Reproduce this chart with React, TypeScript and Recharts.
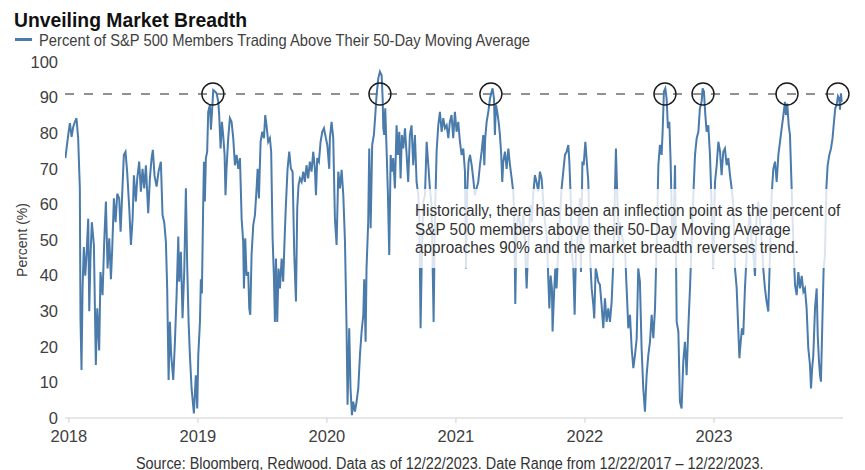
import { Line, LineChart, ReferenceDot, ReferenceLine, XAxis, YAxis } from 'recharts'

const years = [2018, 2019, 2020, 2021, 2022, 2023]
const yTicks = [0, 10, 20, 30, 40, 50, 60, 70, 80, 90, 100]
const threshold = 91
// peaks that touch the 90% line (fractional year)
const peakDates = [2019.116, 2020.411, 2021.271, 2022.62, 2022.915, 2023.566, 2023.961]

// [fractional year, % above 50-day MA]
const s2018: [number, number][] = [
  [2017.973, 73], [2017.995, 79.5], [2018.008, 82.8], [2018.021, 79], [2018.034, 81.8], [2018.047, 83.2],
  [2018.059, 84.2], [2018.072, 78.6], [2018.085, 64.5], [2018.09, 28], [2018.098, 13.5], [2018.106, 36.4],
  [2018.116, 48], [2018.127, 40], [2018.137, 45.8], [2018.15, 56], [2018.158, 30], [2018.168, 45.8],
  [2018.178, 55], [2018.194, 48.6], [2018.209, 14.9], [2018.22, 30.8], [2018.235, 19], [2018.245, 41],
  [2018.261, 34.5], [2018.274, 49.5], [2018.287, 60.8], [2018.3, 42], [2018.313, 50.5], [2018.326, 39],
  [2018.336, 47.6], [2018.349, 61.7], [2018.362, 55], [2018.375, 63], [2018.39, 61.7], [2018.401, 52.3],
  [2018.413, 62.6], [2018.426, 73.9], [2018.439, 74.8], [2018.452, 69], [2018.468, 58.9], [2018.481, 48.6],
  [2018.494, 56], [2018.504, 68.2], [2018.519, 60.8], [2018.53, 67.3], [2018.545, 72], [2018.558, 63.6],
  [2018.571, 70], [2018.584, 64.5], [2018.597, 71], [2018.615, 57.5], [2018.628, 67.3], [2018.641, 73],
  [2018.651, 75.3], [2018.664, 68], [2018.68, 65], [2018.695, 69.2], [2018.713, 72], [2018.726, 57],
  [2018.739, 55], [2018.752, 49.5], [2018.762, 36.4], [2018.773, 10.7], [2018.783, 27], [2018.793, 17.7],
  [2018.809, 10.7], [2018.822, 21.4], [2018.835, 34.5], [2018.848, 51], [2018.855, 38.3], [2018.868, 46.7],
  [2018.881, 28], [2018.894, 41], [2018.907, 64.5], [2018.917, 43], [2018.928, 27], [2018.938, 17.7],
  [2018.951, 8.3], [2018.969, 1.3], [2018.984, 12], [2018.995, 2.7],
]

const s2019: [number, number][] = [
  [2019.003, 17.7], [2019.016, 27], [2019.023, 39], [2019.031, 35], [2019.041, 59.8], [2019.047, 72],
  [2019.054, 60.8], [2019.062, 73], [2019.072, 74.8], [2019.08, 86], [2019.093, 88], [2019.101, 81],
  [2019.109, 85.7], [2019.119, 92.1], [2019.132, 91.7], [2019.145, 91.2], [2019.158, 88.8], [2019.165, 85.1],
  [2019.176, 75.7], [2019.186, 83.2], [2019.196, 79.5], [2019.207, 73.9], [2019.214, 62.6], [2019.222, 70],
  [2019.235, 78.6], [2019.248, 84.2], [2019.261, 83.2], [2019.274, 78.6], [2019.287, 71], [2019.3, 73.9],
  [2019.313, 70], [2019.326, 73], [2019.339, 56], [2019.351, 49.5], [2019.357, 36.4], [2019.367, 50.5],
  [2019.377, 40], [2019.39, 41], [2019.398, 30.8], [2019.406, 29], [2019.416, 45.8], [2019.429, 54.2],
  [2019.442, 57], [2019.455, 64.5], [2019.463, 70], [2019.473, 61.7], [2019.486, 77.6], [2019.499, 80.4],
  [2019.512, 78.6], [2019.522, 85.1], [2019.532, 82.2], [2019.545, 77.6], [2019.558, 78.6], [2019.568, 74.8],
  [2019.579, 50.5], [2019.589, 40], [2019.597, 27], [2019.605, 44.8], [2019.615, 27], [2019.625, 42],
  [2019.636, 36.4], [2019.649, 44.8], [2019.661, 38.3], [2019.674, 52.3], [2019.682, 59.8], [2019.695, 70],
  [2019.708, 74.8], [2019.721, 70], [2019.734, 69.2], [2019.747, 45.8], [2019.76, 32.7], [2019.77, 58.9],
  [2019.78, 65.4], [2019.791, 67.3], [2019.804, 66.3], [2019.817, 69.2], [2019.829, 66.3], [2019.842, 71],
  [2019.855, 67.3], [2019.868, 72], [2019.881, 69.2], [2019.894, 74.8], [2019.907, 70], [2019.915, 62.6],
  [2019.925, 73], [2019.938, 72], [2019.951, 77.6], [2019.964, 80.4], [2019.977, 81.4], [2019.992, 78.6],
]

const s2020: [number, number][] = [
  [2020.003, 76.7], [2020.018, 70], [2020.023, 78.6], [2020.036, 83.2], [2020.049, 78.6], [2020.062, 56],
  [2020.075, 48.6], [2020.088, 69.2], [2020.101, 64.5], [2020.114, 69.7], [2020.127, 62.6], [2020.14, 49.5],
  [2020.152, 26], [2020.16, 3.7], [2020.173, 25.2], [2020.183, 8.3], [2020.194, 0.8], [2020.204, 4.6],
  [2020.217, 1.8], [2020.23, 4.6], [2020.243, 8.3], [2020.256, 17.7], [2020.269, 24.3], [2020.282, 29],
  [2020.289, 39], [2020.3, 21.4], [2020.307, 42], [2020.32, 55], [2020.328, 75.7], [2020.339, 53.3],
  [2020.351, 76.7], [2020.364, 79.5], [2020.375, 85.1], [2020.385, 90.7], [2020.398, 95.4], [2020.411, 97.3],
  [2020.424, 96.3], [2020.432, 89.7], [2020.437, 81.4], [2020.444, 79.5], [2020.452, 87], [2020.463, 74.8],
  [2020.473, 62.6], [2020.483, 45.8], [2020.494, 73.9], [2020.504, 69.2], [2020.514, 73], [2020.527, 64.5],
  [2020.54, 82.2], [2020.55, 73.9], [2020.561, 80.4], [2020.571, 67.3], [2020.581, 79.5], [2020.592, 75.7],
  [2020.605, 81.4], [2020.618, 73.9], [2020.63, 66.3], [2020.643, 79.5], [2020.656, 82.2], [2020.669, 71],
  [2020.682, 79.5], [2020.695, 66.3], [2020.708, 62.6], [2020.716, 57], [2020.726, 25.2], [2020.736, 45.8],
  [2020.747, 60.8], [2020.76, 62.6], [2020.773, 77.6], [2020.786, 71], [2020.798, 64.5], [2020.811, 59.8],
  [2020.819, 43.9], [2020.827, 27], [2020.837, 55], [2020.85, 74.8], [2020.863, 82.2], [2020.876, 86],
  [2020.889, 80.4], [2020.902, 84.2], [2020.915, 81.4], [2020.928, 82.2], [2020.941, 78.6], [2020.953, 83.2],
  [2020.966, 85.1], [2020.979, 78.6], [2020.992, 86],
]

const s2021: [number, number][] = [
  [2021.005, 80.4], [2021.018, 83.2], [2021.031, 77.6], [2021.044, 73.9], [2021.057, 75.7], [2021.07, 69.2],
  [2021.078, 42], [2021.088, 64.5], [2021.098, 72], [2021.109, 73.9], [2021.122, 71], [2021.134, 67.3],
  [2021.147, 62.6], [2021.16, 64.5], [2021.173, 66.3], [2021.186, 71], [2021.199, 74.8], [2021.212, 79.5],
  [2021.22, 71], [2021.227, 78.6], [2021.238, 83.2], [2021.251, 86], [2021.264, 89.7], [2021.277, 91.7],
  [2021.284, 92.6], [2021.295, 89.7], [2021.302, 79.5], [2021.31, 88], [2021.32, 86], [2021.331, 83.2],
  [2021.341, 79.5], [2021.351, 73.9], [2021.359, 66.3], [2021.367, 72], [2021.38, 74.8], [2021.393, 70],
  [2021.406, 75.7], [2021.419, 71], [2021.432, 67.3], [2021.444, 63.6], [2021.452, 57], [2021.46, 32],
  [2021.47, 53.3], [2021.483, 57], [2021.496, 55], [2021.509, 51.4], [2021.522, 57], [2021.535, 49.5],
  [2021.548, 36.4], [2021.558, 45.8], [2021.568, 53.3], [2021.579, 59.8], [2021.589, 55], [2021.599, 62.6],
  [2021.612, 68.2], [2021.625, 66.3], [2021.638, 63.6], [2021.651, 69.2], [2021.664, 67.3], [2021.677, 60.8],
  [2021.69, 55], [2021.703, 51.4], [2021.713, 42], [2021.724, 30.8], [2021.734, 40], [2021.744, 36.4],
  [2021.749, 24.3], [2021.76, 34.5], [2021.77, 42], [2021.78, 36.4], [2021.793, 47.7], [2021.806, 57],
  [2021.819, 64.5], [2021.832, 69.2], [2021.845, 73.9], [2021.858, 74.8], [2021.871, 76.7], [2021.879, 72],
  [2021.889, 62.6], [2021.899, 45.8], [2021.91, 42], [2021.92, 29], [2021.93, 45.8], [2021.941, 49.5],
  [2021.951, 55], [2021.961, 61.7], [2021.969, 41], [2021.98, 72], [2021.99, 71],
]

const s2022: [number, number][] = [
  [2022.003, 77.6], [2022.026, 66.3], [2022.039, 45.8], [2022.052, 36.4], [2022.065, 31.7], [2022.072, 28],
  [2022.083, 42], [2022.09, 41], [2022.103, 38.3], [2022.116, 37.4], [2022.129, 31.7], [2022.142, 25.2],
  [2022.155, 33.6], [2022.168, 27], [2022.181, 30.8], [2022.194, 27], [2022.207, 32.7], [2022.22, 43.9],
  [2022.233, 64.5], [2022.24, 75.7], [2022.251, 61.7], [2022.261, 49.5], [2022.271, 55], [2022.284, 51.4],
  [2022.297, 49.5], [2022.31, 47.7], [2022.323, 36.4], [2022.336, 25.2], [2022.349, 29], [2022.362, 19.6],
  [2022.375, 14], [2022.388, 17.7], [2022.401, 22.4], [2022.413, 42], [2022.426, 38.3], [2022.439, 19.6],
  [2022.452, 8.3], [2022.465, 1.8], [2022.478, 12], [2022.491, 17.7], [2022.504, 21.4], [2022.517, 29],
  [2022.53, 22.4], [2022.543, 30.8], [2022.556, 49.5], [2022.569, 71], [2022.581, 76.7], [2022.594, 73.9],
  [2022.602, 80.4], [2022.612, 91.7], [2022.623, 92.6], [2022.633, 89.7], [2022.643, 81.4], [2022.654, 83.2],
  [2022.664, 72], [2022.674, 55], [2022.685, 49.5], [2022.698, 71], [2022.711, 27], [2022.724, 24.3],
  [2022.736, 4.6], [2022.749, 2.7], [2022.762, 15.8], [2022.775, 21.4], [2022.788, 12], [2022.801, 25.2],
  [2022.814, 36.4], [2022.827, 49.5], [2022.84, 62.6], [2022.853, 73.9], [2022.866, 78.6], [2022.879, 80.4],
  [2022.891, 87], [2022.904, 88.8], [2022.912, 92.6], [2022.922, 91.7], [2022.933, 85.1], [2022.943, 80.4],
  [2022.956, 82.2], [2022.969, 73.9], [2022.981, 60.8], [2022.994, 42],
]

const s2023: [number, number][] = [
  [2023.008, 66.3], [2023.021, 71], [2023.034, 77.6], [2023.047, 74.8], [2023.059, 68.2], [2023.072, 74.8],
  [2023.085, 75.7], [2023.098, 71], [2023.111, 73], [2023.124, 68.2], [2023.137, 64.5], [2023.15, 59.8],
  [2023.163, 42], [2023.176, 36.4], [2023.189, 24.3], [2023.197, 16.8], [2023.207, 21.4], [2023.217, 25.2],
  [2023.227, 23.4], [2023.24, 36.4], [2023.253, 45.8], [2023.266, 53.3], [2023.279, 57.9], [2023.292, 49.5],
  [2023.305, 45.8], [2023.318, 39.9], [2023.331, 57], [2023.344, 60.8], [2023.357, 55], [2023.37, 49.5],
  [2023.382, 42], [2023.395, 36.4], [2023.408, 32.7], [2023.421, 29.9], [2023.434, 45.8], [2023.447, 62.6],
  [2023.46, 70], [2023.473, 72], [2023.486, 66.3], [2023.499, 73.9], [2023.512, 77.6], [2023.525, 81.4],
  [2023.538, 85.1], [2023.55, 88.8], [2023.558, 85.1], [2023.568, 88.3], [2023.579, 82.2], [2023.589, 79.5],
  [2023.602, 64.5], [2023.615, 49.5], [2023.628, 37.4], [2023.641, 34.5], [2023.654, 41], [2023.667, 36.4],
  [2023.68, 39.9], [2023.693, 35.5], [2023.705, 36.4], [2023.718, 30.8], [2023.731, 19.6], [2023.744, 14.9],
  [2023.752, 8.3], [2023.76, 13.5], [2023.77, 17.7], [2023.783, 30.8], [2023.796, 36.4], [2023.804, 23.4],
  [2023.814, 15.8], [2023.822, 12], [2023.829, 10.2], [2023.84, 27], [2023.85, 42], [2023.86, 45.8],
  [2023.871, 64.5], [2023.881, 71], [2023.894, 73.9], [2023.907, 75.7], [2023.919, 78.6], [2023.93, 83.2],
  [2023.94, 87], [2023.951, 88], [2023.961, 90.4], [2023.971, 89.7], [2023.977, 86.6], [2023.984, 91.2],
  [2023.99, 88.8],
]

const data = [...s2018, ...s2019, ...s2020, ...s2021, ...s2022, ...s2023].map(([t, v]) => ({ t, v }))

const sans = "'Liberation Sans', Arial, sans-serif"
const BLUE = '#4a7bab'
const INK = '#404040'

// the original uses a condensed face; squeeze Liberation Sans to match
const squeeze = (k: number) => ({ transform: `scaleX(${k})`, transformOrigin: 'left top', whiteSpace: 'nowrap' as const })

export default function App() {
  return (
    <div style={{ position: 'absolute', left: 0, top: 0, width: 865, height: 470, background: '#fff', overflow: 'hidden', fontFamily: sans }}>
      <div style={{ position: 'absolute', left: 13.5, top: 9, fontSize: 21, lineHeight: '21px', fontWeight: 700, color: '#111', ...squeeze(0.92) }}>
        Unveiling Market Breadth
      </div>
      <div style={{ position: 'absolute', left: 15, top: 38, width: 17, height: 3, background: BLUE }} />
      <div style={{ position: 'absolute', left: 39, top: 32.3, fontSize: 17, lineHeight: '17px', color: INK, ...squeeze(0.866) }}>
        Percent of S&amp;P 500 Members Trading Above Their 50-Day Moving Average
      </div>

      <LineChart width={865} height={470} data={data} margin={{ top: 62, right: 22, bottom: 22, left: 20 }}>
        <XAxis
          type="number"
          dataKey="t"
          domain={[2017.97, 2024]}
          ticks={years}
          tickFormatter={(v) => String(v)}
          height={30}
          stroke="#cfcfcf"
          tickSize={5}
          tickMargin={7}
          tick={{ fill: INK, fontSize: 16.5, fontFamily: sans }}
          allowDataOverflow
        />
        <YAxis
          type="number"
          domain={[0, 100]}
          ticks={yTicks}
          width={45}
          axisLine={false}
          tickLine={false}
          tickSize={0}
          tickMargin={7}
          tick={{ fill: INK, fontSize: 16.5, fontFamily: sans }}
          label={{ value: 'Percent (%)', angle: -90, position: 'insideLeft', offset: 2, style: { textAnchor: 'middle', fill: INK, fontSize: 14, fontFamily: sans } }}
        />
        <ReferenceLine y={threshold} stroke="#6e6e6e" strokeWidth={1.5} strokeDasharray="9 10" />
        <Line type="linear" dataKey="v" stroke={BLUE} strokeWidth={2} dot={false} isAnimationActive={false} />
        {peakDates.map((d) => (
          <ReferenceDot key={d} x={d} y={threshold} r={11} fill="none" stroke="#1a1a1a" strokeWidth={1.4} />
        ))}
      </LineChart>

      <div style={{ position: 'absolute', left: 413, top: 189, width: 428, height: 79, background: 'rgba(255,255,255,0.8)' }} />
      <div
        style={{
          position: 'absolute', left: 415, top: 201.8, color: '#333',
          fontSize: 16, lineHeight: '18.7px', ...squeeze(0.957),
        }}
      >
        Historically, there has been an inflection point as the percent of
        <br />
        S&amp;P 500 members above their 50-Day Moving Average
        <br />
        approaches 90% and the market breadth reverses trend.
      </div>

      <div style={{ position: 'absolute', left: 136, top: 456, fontSize: 16, lineHeight: '16px', color: '#333', ...squeeze(0.9) }}>
        Source: Bloomberg, Redwood. Data as of 12/22/2023. Date Range from 12/22/2017 – 12/22/2023.
      </div>
    </div>
  )
}
